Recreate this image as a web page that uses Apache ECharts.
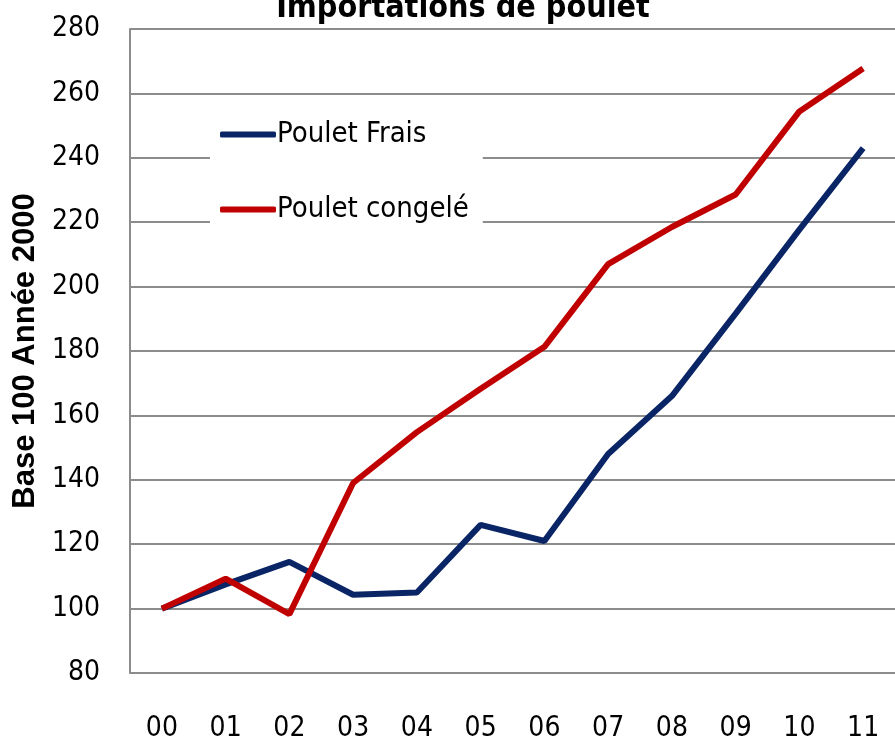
<!DOCTYPE html>
<html>
<head>
<meta charset="utf-8">
<script src="https://cdn.jsdelivr.net/npm/echarts@6/dist/echarts.min.js"></script>
<style>
  html, body { margin: 0; padding: 0; background: #fff; }
  #main { width: 895px; height: 744px; }
</style>
</head>
<body>
<div id="main"></div>
<script>
const years = ["00", "01", "02", "03", "04", "05", "06", "07", "08", "09", "10", "11"];
const pouletFrais = [100, 107.5, 114.5, 104.3, 105, 126, 121, 148, 166, 191.6, 217.7, 243];
const pouletCongele = [100, 109.3, 98.3, 139, 154.8, 168.3, 181.3, 207, 218.5, 228.6, 254.4, 267.7];

const narrow = "'Liberation Sans Narrow', 'DejaVu Sans Condensed', sans-serif";

const chart = echarts.init(document.getElementById("main"));
chart.setOption({
  animation: false,
  title: {
    text: "Importations de poulet",
    left: 458,
    textAlign: "center",
    top: -12,
    textStyle: { fontFamily: narrow, fontSize: 32, fontWeight: "bold", color: "#000" },
  },
  legend: {
    left: 210,
    top: 112,
    orient: "vertical",
    backgroundColor: "#fff",
    padding: [8, 14, 8, 10],
    itemGap: 46,
    itemWidth: 56,
    itemHeight: 6,
    icon: "roundRect",
    textStyle: { fontFamily: narrow, fontSize: 29, color: "#000", padding: [0, 0, 0, -4] },
    data: ["Poulet Frais", "Poulet congelé"],
  },
  grid: { left: 130, right: 0, top: 29, bottom: 71, outerBoundsMode: "none" },
  xAxis: {
    type: "category",
    data: years,
    boundaryGap: true,
    axisLine: { show: false },
    axisTick: { show: false },
    axisLabel: { fontFamily: narrow, fontSize: 28, color: "#000", margin: 42 },
  },
  yAxis: {
    type: "value",
    min: 80,
    max: 280,
    interval: 20,
    name: "Base 100 Année 2000",
    nameLocation: "middle",
    nameGap: 88,
    nameTextStyle: { fontFamily: "'Liberation Sans', Arial, sans-serif", fontSize: 31, fontWeight: "bold", color: "#000" },
    axisLine: { show: true, lineStyle: { color: "#8c8c8c", width: 2 } },
    axisTick: { show: false },
    axisLabel: { fontFamily: narrow, fontSize: 28, color: "#000", margin: 30 },
    splitLine: { lineStyle: { color: "#8c8c8c", width: 2 } },
  },
  series: [
    {
      name: "Poulet Frais",
      type: "line",
      data: pouletFrais,
      symbol: "none",
      lineStyle: { color: "#0a2566", width: 6 },
      itemStyle: { color: "#0a2566" },
      z: 2,
    },
    {
      name: "Poulet congelé",
      type: "line",
      data: pouletCongele,
      symbol: "none",
      lineStyle: { color: "#c00000", width: 6 },
      itemStyle: { color: "#c00000" },
      z: 3,
    },
  ],
});
</script>
</body>
</html>
